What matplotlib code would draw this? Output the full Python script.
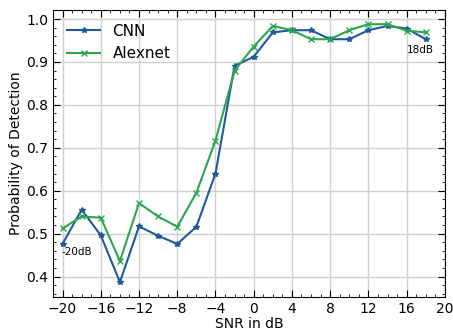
import numpy as np
import matplotlib
matplotlib.use("Agg")
from matplotlib import pyplot as plt
from matplotlib.ticker import AutoMinorLocator

snr = [-20, -18, -16, -14, -12, -10, -8, -6, -4, -2, 0, 2, 4, 6, 8, 10, 12, 14, 16, 18]
cnn = [0.476, 0.556, 0.496, 0.387, 0.517, 0.495, 0.476, 0.516, 0.640, 0.891,
       0.912, 0.969, 0.974, 0.974, 0.953, 0.953, 0.974, 0.984, 0.978, 0.953]
alexnet = [0.512, 0.540, 0.537, 0.436, 0.571, 0.540, 0.516, 0.595, 0.717, 0.880,
           0.936, 0.984, 0.974, 0.953, 0.953, 0.974, 0.988, 0.988, 0.973, 0.969]

fig = plt.figure(figsize=(4.53, 3.35), dpi=100)
ax = fig.add_axes([0.117, 0.113, 0.865, 0.857])

ax.plot(snr, cnn, color="#1f5a9a", marker="*", markersize=4, linewidth=1.5, label="CNN")
ax.plot(snr, alexnet, color="#2ca64e", marker="x", markersize=4, linewidth=1.5, label="Alexnet")

# endpoint labels
ax.text(-20.1, 0.458, "-20dB", fontsize=7.5, ha="left", va="center")
ax.text(16.0, 0.928, "18dB", fontsize=7.5, ha="left", va="center")

ax.set_xlim(-21, 20)
ax.set_ylim(0.352, 1.021)
ax.set_xticks(np.arange(-20, 21, 4))
ax.set_yticks(np.arange(0.4, 1.01, 0.1))
ax.xaxis.set_minor_locator(AutoMinorLocator(4))
ax.yaxis.set_minor_locator(AutoMinorLocator(5))
ax.tick_params(which="both", direction="in", top=True, right=True, labelsize=10)
ax.tick_params(which="major", length=5)
ax.tick_params(which="minor", length=2.5)
ax.grid(True, which="major", color="#d0d0d0", linewidth=1)

ax.set_xlabel("SNR in dB", fontsize=10, labelpad=1)
ax.set_ylabel("Probability of Detection", fontsize=10, labelpad=2)
ax.legend(loc="upper left", fontsize=11, frameon=False, handlelength=2.2)

plt.savefig("out.png", dpi=100)
